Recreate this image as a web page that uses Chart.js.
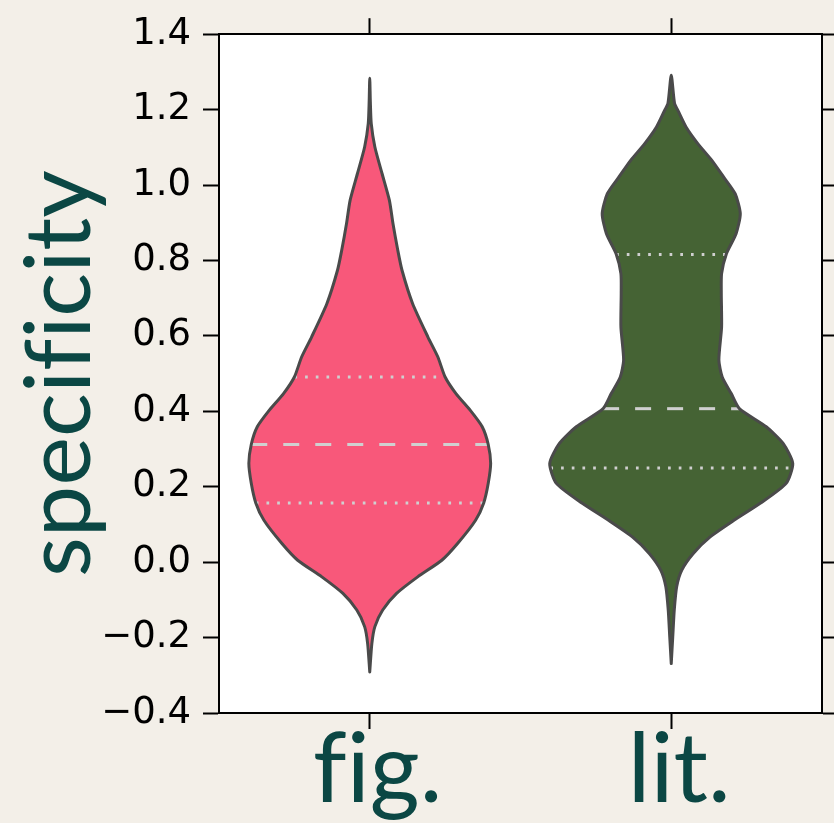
<!DOCTYPE html>
<html>
<head>
<meta charset="utf-8">
<script src="https://cdn.jsdelivr.net/npm/chart.js@4"></script>
<style>
  html, body { margin: 0; padding: 0; background: #f3efe8; }
  #wrap { width: 834px; height: 823px; position: relative; }
</style>
</head>
<body>
<div id="wrap"><canvas id="c"></canvas></div>
<script>
// ---------------- data ----------------
const categories = ['fig.', 'lit.'];
const yTickValues = [-0.4, -0.2, 0.0, 0.2, 0.4, 0.6, 0.8, 1.0, 1.2, 1.4];

// fig. violin outline: value levels and density half-widths (in category units)
const figLevels = [-0.291, -0.216, -0.171, -0.127, -0.083, -0.039, 0.005, 0.050, 0.111, 0.157,
                   0.209, 0.262, 0.312, 0.359, 0.403, 0.447, 0.491, 0.544, 0.597, 0.686,
                   0.774, 0.827, 0.898, 0.960, 1.030, 1.101, 1.163, 1.220, 1.283];
const figHalfWidths = [0, 0.007, 0.017, 0.043, 0.089, 0.159, 0.239, 0.292, 0.351, 0.378,
                       0.393, 0.401, 0.393, 0.373, 0.333, 0.286, 0.250, 0.226, 0.193, 0.142,
                       0.107, 0.093, 0.077, 0.065, 0.041, 0.017, 0.005, 0.002, 0];

// lit. violin outline
const litLevels = [-0.269, -0.198, -0.127, -0.065, -0.021, 0.023, 0.067, 0.111, 0.156, 0.209,
                   0.262, 0.315, 0.359, 0.407, 0.447, 0.491, 0.536, 0.624, 0.712, 0.765,
                   0.818, 0.871, 0.924, 0.977, 1.021, 1.066, 1.110, 1.154, 1.198, 1.216, 1.291];
const litHalfWidths = [0, 0.005, 0.010, 0.018, 0.035, 0.073, 0.129, 0.208, 0.295, 0.381,
                       0.403, 0.371, 0.315, 0.226, 0.199, 0.169, 0.158, 0.167, 0.166, 0.167,
                       0.183, 0.215, 0.229, 0.212, 0.174, 0.134, 0.088, 0.049, 0.022, 0.011, 0];

// quartiles (Q1, median, Q3) and the violin half-width at each
const figQuartiles = [0.157, 0.312, 0.491];
const figQuartileHalfWidths = [0.378, 0.393, 0.250];
const litQuartiles = [0.250, 0.407, 0.816];
const litQuartileHalfWidths = [0.401, 0.226, 0.183];

// ---------------- styling ----------------
const violinColors = ['#f8587a', '#456334'];
const outlineColor = '#4a4a4a';
const quartileColor = '#d0d0d0';
const teal = '#0b4744';
const TENSION = 0.22;

function outline(center, levels, hws) {
  const pts = [];
  for (let i = 0; i < levels.length; i++) pts.push({x: center + hws[i], y: levels[i]});
  for (let i = levels.length - 2; i >= 1; i--) pts.push({x: center - hws[i], y: levels[i]});
  pts.push({x: center - hws[0], y: levels[0]});
  return pts;
}

const violins = [
  {levels: figLevels, hws: figHalfWidths, q: figQuartiles, qhw: figQuartileHalfWidths},
  {levels: litLevels, hws: litHalfWidths, q: litQuartiles, qhw: litQuartileHalfWidths}
];

const datasets = [];
violins.forEach((v, i) => {
  datasets.push({
    data: outline(i, v.levels, v.hws),
    borderColor: outlineColor, borderWidth: 3, fill: false,
    tension: TENSION, pointRadius: 0, borderJoinStyle: 'round', borderCapStyle: 'round',
    order: 0, xAxisID: 'x', yAxisID: 'y'
  });
});
violins.forEach((v, i) => {
  v.q.forEach((q, k) => {
    datasets.push({
      data: [{x: i - v.qhw[k], y: q}, {x: i + v.qhw[k], y: q}],
      borderColor: quartileColor, borderWidth: 3, fill: false, pointRadius: 0,
      borderDash: k === 1 ? [16, 16] : [2.7, 8], borderCapStyle: 'butt',
      order: 1, xAxisID: 'x', yAxisID: 'y'
    });
  });
});
violins.forEach((v, i) => {
  datasets.push({
    data: outline(i, v.levels, v.hws),
    borderWidth: 0, borderColor: 'rgba(0,0,0,0)', backgroundColor: violinColors[i],
    fill: 'shape', tension: TENSION, pointRadius: 0,
    order: 2, xAxisID: 'x', yAxisID: 'y'
  });
});

const plotBg = {
  id: 'plotBg',
  beforeDraw(chart) {
    const {ctx, chartArea: a} = chart;
    try { ctx.textRendering = 'optimizeSpeed'; } catch (e) {}
    ctx.save();
    ctx.fillStyle = '#ffffff';
    ctx.fillRect(a.left, a.top, a.right - a.left, a.bottom - a.top);
    ctx.restore();
  }
};

const catTicks = scale => { scale.ticks = categories.map((c, i) => ({value: i})); };
const yTicks = scale => { scale.ticks = yTickValues.map(v => ({value: v})); };
const gridOpts = {
  display: true, drawOnChartArea: false, drawTicks: true,
  tickLength: 16, tickWidth: 2, tickColor: '#000'
};
const borderOpts = {display: true, color: '#000', width: 2};

const canvas = document.getElementById('c');
try { canvas.getContext('2d').textRendering = 'optimizeSpeed'; } catch (e) {}

new Chart(canvas, {
  type: 'line',
  data: {datasets},
  plugins: [plotBg],
  options: {
    indexAxis: 'y',
    responsive: true,
    maintainAspectRatio: false,
    animation: false,
    layout: {padding: 0},
    plugins: {legend: {display: false}, tooltip: {enabled: false}},
    scales: {
      x: {
        axis: 'x', type: 'linear', position: 'bottom', min: -0.5, max: 1.5,
        afterBuildTicks: catTicks,
        afterFit: s => { s.height = 110; },
        ticks: {
          autoSkip: false, maxRotation: 0, minRotation: 0, padding: -16, labelOffset: 8,
          color: teal, font: {family: 'Lato', size: 96, lineHeight: 1.2},
          callback: v => categories[Math.round(v)]
        },
        grid: gridOpts, border: borderOpts
      },
      xTop: {
        axis: 'x', type: 'linear', position: 'top', min: -0.5, max: 1.5,
        afterBuildTicks: catTicks,
        afterFit: s => { s.height = 33; },
        ticks: {display: false},
        grid: gridOpts, border: borderOpts
      },
      y: {
        axis: 'y', type: 'linear', position: 'left', min: -0.4, max: 1.4,
        afterBuildTicks: yTicks,
        afterFit: s => { s.width = 219; },
        ticks: {
          padding: 12, color: '#000',
          font: {family: 'DejaVu Sans', size: 37},
          callback: v => (Math.abs(v) < 1e-9 ? '0.0' : v.toFixed(1).replace('-', '\u2212'))
        },
        title: {
          display: true, text: 'specificity', color: teal,
          font: {family: 'Lato', size: 92, lineHeight: 1.1},
          padding: {top: 10, bottom: 0}
        },
        grid: gridOpts, border: borderOpts
      },
      yRight: {
        axis: 'y', type: 'linear', position: 'right', min: -0.4, max: 1.4,
        afterBuildTicks: yTicks,
        afterFit: s => { s.width = 12; },
        ticks: {display: false},
        grid: gridOpts, border: borderOpts
      }
    }
  }
});
</script>
</body>
</html>
